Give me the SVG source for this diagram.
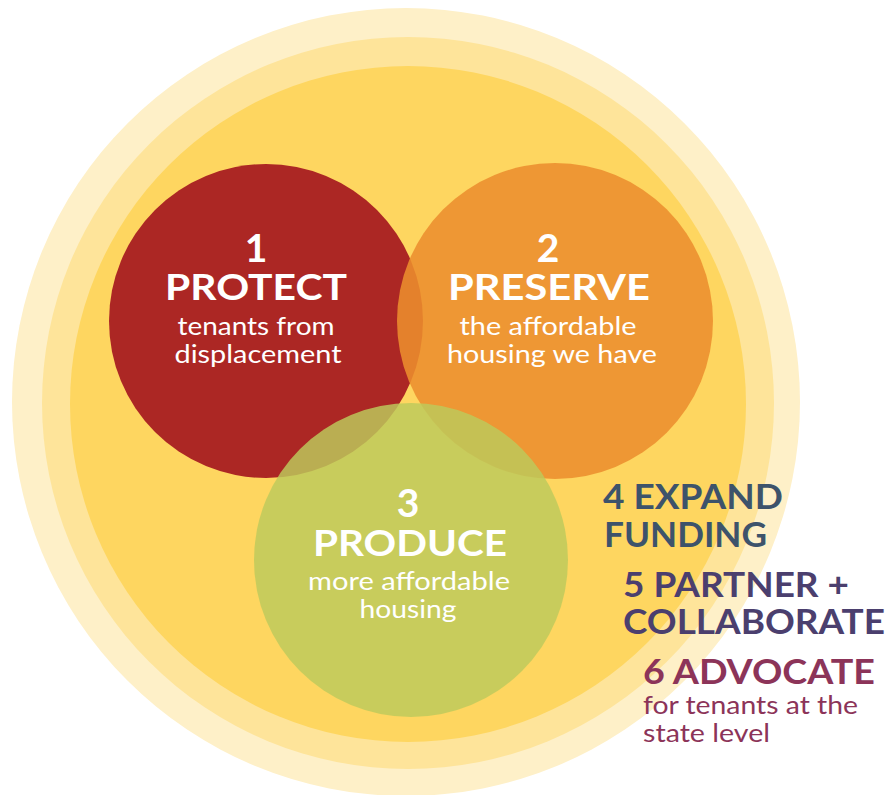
<svg xmlns="http://www.w3.org/2000/svg" width="891" height="795" viewBox="0 0 891 795">
<style>
.num{font-family:Lato,"Open Sans",sans-serif;font-weight:700;font-size:39px;fill:#fff;text-anchor:middle}
.hd{font-family:Lato,"Open Sans",sans-serif;font-weight:700;font-size:37px;fill:#fff;text-anchor:middle}
.sub{font-family:Lato,"Open Sans",sans-serif;font-weight:400;font-size:25px;fill:#fff;text-anchor:middle}
.rh{font-family:Lato,"Open Sans",sans-serif;font-weight:700;font-size:34px}
.rs{font-family:Lato,"Open Sans",sans-serif;font-weight:400;font-size:25px}
</style>
<g id="rings">
<circle cx="406" cy="402" r="394" fill="#FEF0C8"/>
<circle cx="408" cy="403" r="366" fill="#FEE49A"/>
<circle cx="408" cy="404" r="338" fill="#FED660"/>
</g>
<g id="node-protect">
<circle cx="266" cy="321" r="157" fill="#AC2724"/>
</g>
<g id="node-preserve">
<circle cx="555" cy="321" r="158" fill="#EC8E2D" fill-opacity="0.88"/>
</g>
<g id="node-produce">
<circle cx="411" cy="560" r="157" fill="#BDCA5C" fill-opacity="0.83"/>
</g>
<g id="connectors"></g>
<g id="label-protect">
<text class="num" x="256" y="262">1</text>
<text class="hd" x="256" y="300" textLength="182" lengthAdjust="spacingAndGlyphs">PROTECT</text>
<text class="sub" x="256" y="335" textLength="157" lengthAdjust="spacingAndGlyphs">tenants from</text>
<text class="sub" x="258" y="363" textLength="167" lengthAdjust="spacingAndGlyphs">displacement</text>
</g>
<g id="label-preserve">
<text class="num" x="548" y="262">2</text>
<text class="hd" x="549" y="300" textLength="202" lengthAdjust="spacingAndGlyphs">PRESERVE</text>
<text class="sub" x="548" y="335" textLength="177" lengthAdjust="spacingAndGlyphs">the affordable</text>
<text class="sub" x="552" y="363" textLength="210" lengthAdjust="spacingAndGlyphs">housing we have</text>
</g>
<g id="label-produce">
<text class="num" x="408" y="517">3</text>
<text class="hd" x="410" y="556" textLength="194" lengthAdjust="spacingAndGlyphs">PRODUCE</text>
<text class="sub" x="409" y="590" textLength="202" lengthAdjust="spacingAndGlyphs">more affordable</text>
<text class="sub" x="408" y="618" textLength="97" lengthAdjust="spacingAndGlyphs">housing</text>
</g>
<g id="node-expand" fill="#3D536B">
<text class="rh" x="603" y="509" textLength="180" lengthAdjust="spacingAndGlyphs">4 EXPAND</text>
<text class="rh" x="604" y="547" textLength="163" lengthAdjust="spacingAndGlyphs">FUNDING</text>
</g>
<g id="node-partner" fill="#4B3F6E">
<text class="rh" x="623" y="597" textLength="226" lengthAdjust="spacingAndGlyphs">5 PARTNER +</text>
<text class="rh" x="623" y="634" textLength="262" lengthAdjust="spacingAndGlyphs">COLLABORATE</text>
</g>
<g id="node-advocate" fill="#8C3459">
<text class="rh" x="643" y="684" textLength="232" lengthAdjust="spacingAndGlyphs">6 ADVOCATE</text>
<text class="rs" x="643" y="714" textLength="215" lengthAdjust="spacingAndGlyphs">for tenants at the</text>
<text class="rs" x="643" y="742" textLength="127" lengthAdjust="spacingAndGlyphs">state level</text>
</g>
</svg>
